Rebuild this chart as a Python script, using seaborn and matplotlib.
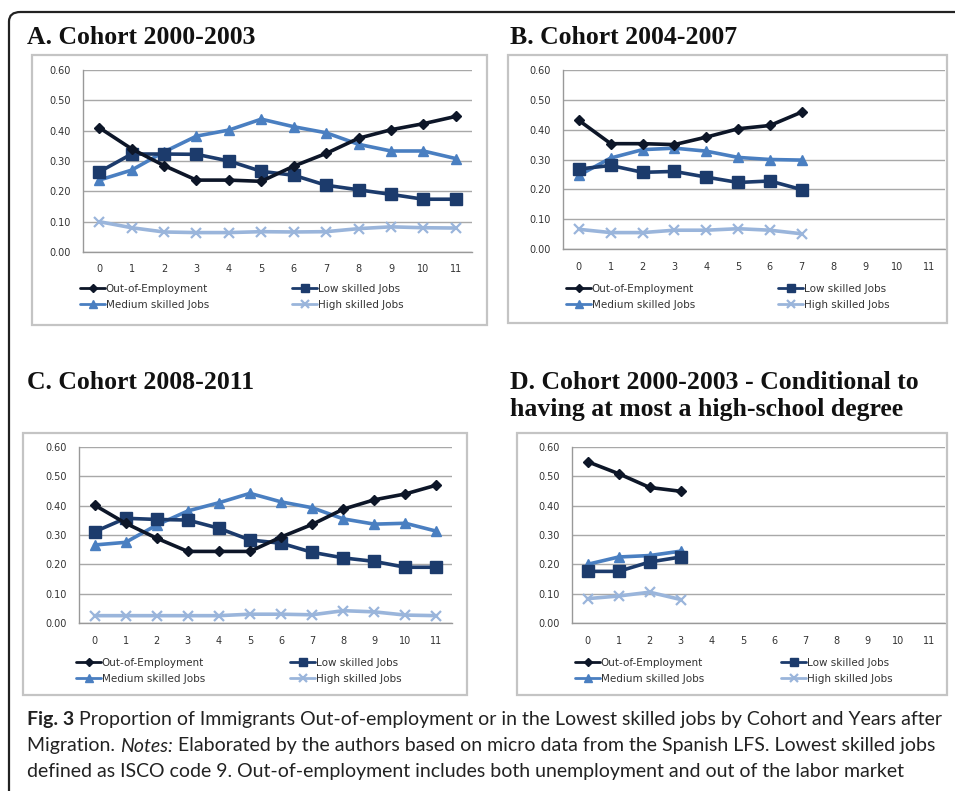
import matplotlib
matplotlib.use('Agg')
import matplotlib.pyplot as plt
from matplotlib.patches import Rectangle, FancyBboxPatch
import seaborn as sns
import pandas as pd

# Data (proportion by years after migration)
series_names = ['Out-of-Employment', 'Low skilled Jobs', 'Medium skilled Jobs', 'High skilled Jobs']

years_a = list(range(12))
out_a = [0.41, 0.34, 0.285, 0.237, 0.237, 0.233, 0.283, 0.325, 0.375, 0.403, 0.423, 0.447]
low_a = [0.264, 0.323, 0.323, 0.322, 0.300, 0.266, 0.253, 0.220, 0.205, 0.190, 0.174, 0.174]
med_a = [0.237, 0.270, 0.330, 0.382, 0.402, 0.438, 0.413, 0.393, 0.355, 0.333, 0.333, 0.308]
high_a = [0.100, 0.080, 0.066, 0.064, 0.064, 0.067, 0.066, 0.067, 0.077, 0.083, 0.080, 0.079]

years_b = list(range(8))
out_b = [0.431, 0.353, 0.353, 0.350, 0.375, 0.403, 0.414, 0.459]
low_b = [0.268, 0.280, 0.257, 0.260, 0.241, 0.223, 0.228, 0.199]
med_b = [0.247, 0.305, 0.333, 0.338, 0.328, 0.307, 0.300, 0.298]
high_b = [0.066, 0.055, 0.055, 0.063, 0.063, 0.068, 0.063, 0.051]

years_c = list(range(12))
out_c = [0.402, 0.340, 0.289, 0.244, 0.244, 0.244, 0.293, 0.336, 0.388, 0.420, 0.440, 0.470]
low_c = [0.311, 0.357, 0.353, 0.351, 0.323, 0.283, 0.272, 0.241, 0.222, 0.210, 0.190, 0.190]
med_c = [0.266, 0.275, 0.334, 0.382, 0.410, 0.442, 0.413, 0.393, 0.355, 0.337, 0.340, 0.313]
high_c = [0.025, 0.025, 0.025, 0.025, 0.025, 0.030, 0.030, 0.028, 0.042, 0.038, 0.027, 0.025]

years_d = list(range(4))
out_d = [0.550, 0.509, 0.462, 0.449]
low_d = [0.176, 0.176, 0.208, 0.225]
med_d = [0.200, 0.225, 0.230, 0.245]
high_d = [0.083, 0.092, 0.105, 0.080]

panel_titles = ['A. Cohort 2000-2003', 'B. Cohort 2004-2007', 'C. Cohort 2008-2011',
                'D. Cohort 2000-2003 - Conditional to\nhaving at most a high-school degree']

x_ticks = list(range(12))
y_ticks = [0.0, 0.1, 0.2, 0.3, 0.4, 0.5, 0.6]

colors = ['#0d1628', '#1c3b6c', '#4a7fc1', '#9ab5db']
markers = ['D', 's', '^', 'x']
msizes = [5, 8, 7, 7]

sns.set_style('white')
plt.rcParams['font.family'] = ['DejaVu Sans']

W, H = 955, 791
fig = plt.figure(figsize=(W / 100, H / 100), dpi=100)


def fx(px):
    return px / W


def fy(py):
    return 1 - py / H


# outer frame
frame = FancyBboxPatch((fx(9), fy(830)), fx(1000), (830 - 12) / H,
                       boxstyle='round,pad=0,rounding_size=0.012',
                       transform=fig.transFigure, fill=False, ec='#222222', lw=1.6)
fig.add_artist(frame)

# panel boxes (px): left, top, right, bottom
boxes = [(32, 55, 487, 325), (508, 55, 947, 323), (23, 433, 467, 695), (517, 433, 947, 695)]
for l, t, r, b in boxes:
    fig.add_artist(Rectangle((fx(l), fy(b)), fx(r - l), (b - t) / H, transform=fig.transFigure,
                             fill=False, ec='#c4c4c4', lw=1.6))

# plot areas (px): left, top, right, bottom
areas = [(83, 70, 472, 252), (563, 70, 945, 249), (79, 447, 452, 623), (572, 447, 945, 623)]
legend_pos = [(80, 284, 292), (566, 284, 778), (76, 658, 290), (575, 658, 781)]
title_pos = [(27, 37), (510, 37), (27, 382), (510, 396)]

data = [
    (years_a, [out_a, low_a, med_a, high_a]),
    (years_b, [out_b, low_b, med_b, high_b]),
    (years_c, [out_c, low_c, med_c, high_c]),
    (years_d, [out_d, low_d, med_d, high_d]),
]

for i, (years, vals) in enumerate(data):
    l, t, r, b = areas[i]
    ax = fig.add_axes([fx(l), fy(b), fx(r - l), (b - t) / H])
    df = pd.DataFrame({'year': years * 4,
                       'value': sum(vals, []),
                       'series': [s for s in series_names for _ in years]})
    handles = []
    for k, name in enumerate(series_names):
        sub = df[df['series'] == name]
        sns.lineplot(data=sub, x='year', y='value', ax=ax, color=colors[k], marker=markers[k],
                     markersize=msizes[k], mec=colors[k], mew=1.6 if markers[k] == 'x' else 1,
                     linewidth=2.6, legend=False, zorder=3 + (3 - k))
        handles.append(ax.get_lines()[-1])

    ax.set_xlim(-0.5, 11.5)
    ax.set_ylim(0, 0.6)
    ax.set_xticks(x_ticks)
    ax.set_xticks([x - 0.5 for x in x_ticks] + [11.5], minor=True)
    ax.set_yticks(y_ticks)
    ax.set_yticklabels([f'{v:.2f}' for v in y_ticks])
    ax.set_xlabel('')
    ax.set_ylabel('')
    ax.tick_params(axis='x', which='major', length=0, pad=9, labelsize=7, labelcolor='#333333')
    ax.tick_params(axis='x', which='minor', length=3, color='#999999', direction='out')
    ax.tick_params(axis='y', which='major', length=3, color='#999999', direction='out',
                   labelsize=7, labelcolor='#333333', pad=6)
    ax.grid(axis='y', color='#a8a8a8', lw=1)
    ax.set_axisbelow(True)
    sns.despine(ax=ax, top=True, right=True)
    for side in ['left', 'bottom']:
        ax.spines[side].set_color('#999999')
        ax.spines[side].set_linewidth(1)

    # legend: two columns, first row Out / Low, second Medium / High
    x1, ytop, x2 = legend_pos[i]
    for col, idx in enumerate([(0, 2), (1, 3)]):
        lx = x1 if col == 0 else x2
        leg = fig.legend([handles[j] for j in idx], [series_names[j] for j in idx],
                         loc='upper left', bbox_to_anchor=(fx(lx), fy(ytop)),
                         bbox_transform=fig.transFigure, frameon=False, fontsize=7.5,
                         handlelength=2.4, handletextpad=0.05, labelspacing=0.55,
                         borderpad=0, borderaxespad=0, markerscale=0.75)
        for txt in leg.get_texts():
            txt.set_color('#333333')
        for ln in leg.get_lines():
            ln.set_linewidth(2)

    tx, ty = title_pos[i]
    fig.text(fx(tx), fy(ty), panel_titles[i], family='Liberation Serif', weight='bold',
             fontsize=18.5, va='center', ha='left', color='#111111',
             linespacing=1.25)

# caption with mixed styles
cap_font = 'Lato'
cap_size = 14
caption_lines = [
    [('Fig. 3', 'bold', 'normal'),
     (' Proportion of Immigrants Out-of-employment or in the Lowest skilled jobs by Cohort and Years after',
      'normal', 'normal')],
    [('Migration. ', 'normal', 'normal'), ('Notes:', 'normal', 'italic'),
     (' Elaborated by the authors based on micro data from the Spanish LFS. Lowest skilled jobs',
      'normal', 'normal')],
    [('defined as ISCO code 9. Out-of-employment includes both unemployment and out of the labor market',
      'normal', 'normal')],
]
caption_y = [720, 746, 772]

renderer = fig.canvas.get_renderer()
for runs, py in zip(caption_lines, caption_y):
    px = 27
    for text, weight, style in runs:
        t = fig.text(fx(px), fy(py), text, family=cap_font, weight=weight, style=style,
                     fontsize=cap_size, va='center', ha='left', color='#222222')
        ext = t.get_window_extent(renderer=renderer)
        px += ext.width

fig.savefig('out.png', dpi=100)
